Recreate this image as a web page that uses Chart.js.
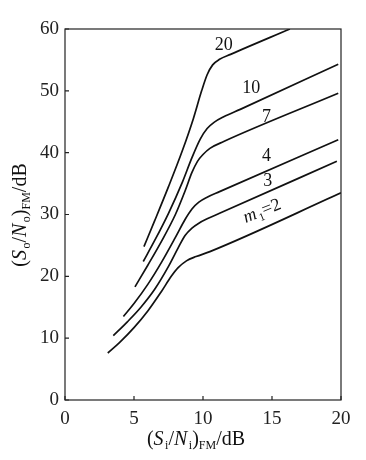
<!DOCTYPE html>
<html lang="zh">
<head>
<meta charset="UTF-8">
<title>FM output SNR vs input SNR</title>
<script src="https://cdn.jsdelivr.net/npm/chart.js@4.4.0/dist/chart.umd.min.js"></script>
<style>
  html, body { margin: 0; padding: 0; background: #fff; }
  #wrap { width: 366px; height: 460px; position: relative; }
</style>
</head>
<body>
<div id="wrap"><canvas id="snrChart"></canvas></div>
<script>
// curves: input SNR (dB) -> output SNR (dB), one per modulation index
const curveM2 = [[3.1,7.6],[4,9.4],[5,11.7],[6,14.4],[7,17.6],[7.7,20],[8.2,21.4],[8.8,22.5],[9.5,23.2],[10.5,24],[20,33.5]];
const curveM3 = [[3.5,10.4],[4.5,12.6],[5.5,15],[6.5,17.9],[7.5,21.6],[8.2,24.6],[8.7,26.6],[9.2,27.8],[9.7,28.6],[10.3,29.3],[11.2,30.2],[19.7,38.6]];
const curveM4 = [[4.23,13.5],[5,15.6],[6,18.7],[7,22.3],[8,26.3],[8.7,29.2],[9.2,30.9],[9.7,32],[10.3,32.8],[11.2,33.7],[19.8,42.1]];
const curveM7 = [[5.07,18.3],[6,21.8],[7,25.7],[8,30],[8.7,33.8],[9.2,36.8],[9.6,38.6],[10,39.7],[10.5,40.7],[11.5,41.8],[19.8,49.6]];
const curveM10 = [[5.67,22.4],[6.5,25.8],[7.5,30.2],[8.5,35.2],[9.2,39.2],[9.8,42.2],[10.3,43.9],[10.8,44.9],[11.5,45.8],[12.7,47],[19.8,54.3]];
const curveM20 = [[5.72,24.8],[6.5,29],[7.5,34.5],[8.5,40.3],[9.3,45.5],[9.9,50],[10.3,52.6],[10.7,54.2],[11.2,55.1],[12,55.9],[16.3,60]];

const curves = [curveM2, curveM3, curveM4, curveM7, curveM10, curveM20];

// curve labels: text and position (data units)
const labelTexts = ['20', '10', '7', '4', '3'];
const labelX = [11.5, 13.5, 14.6, 14.6, 14.7];
const labelY = [57.3, 50.4, 45.8, 39.4, 35.3];
const m2LabelPos = [14.25, 30.7];

const xTicks = [0, 5, 10, 15, 20];
const yTicks = [0, 10, 20, 30, 40, 50, 60];

const SERIF = '"Liberation Serif", "Times New Roman", serif';

// draw text made of pieces: {t, it (italic), sub (subscript)}
function drawRich(ctx, parts, cx, cy, size) {
  const subSize = Math.round(size * 0.62);
  let total = 0;
  parts.forEach(p => {
    ctx.font = (p.it ? 'italic ' : '') + (p.sub ? subSize : size) + 'px ' + SERIF;
    p.w = ctx.measureText(p.t).width + (p.it ? 1.5 : 0);
    total += p.w;
  });
  let x = cx - total / 2;
  ctx.textBaseline = 'alphabetic';
  ctx.textAlign = 'left';
  parts.forEach(p => {
    ctx.font = (p.it ? 'italic ' : '') + (p.sub ? subSize : size) + 'px ' + SERIF;
    ctx.fillText(p.t, x, cy + (p.sub ? size * 0.22 : 0));
    x += p.w;
  });
}

const decorPlugin = {
  id: 'decor',
  afterDatasetsDraw(chart) {
    const ctx = chart.ctx;
    const a = chart.chartArea;
    const xs = chart.scales.x, ys = chart.scales.y;
    ctx.save();
    ctx.strokeStyle = '#222';
    ctx.lineWidth = 1.2;
    ctx.strokeRect(a.left, a.top, a.right - a.left, a.bottom - a.top);
    // inward ticks
    ctx.beginPath();
    xTicks.forEach(v => {
      const px = xs.getPixelForValue(v);
      ctx.moveTo(px, a.bottom); ctx.lineTo(px, a.bottom - 4);
    });
    yTicks.forEach(v => {
      const py = ys.getPixelForValue(v);
      ctx.moveTo(a.left, py); ctx.lineTo(a.left + 4, py);
    });
    ctx.stroke();

    ctx.fillStyle = '#111';
    ctx.textAlign = 'center';
    ctx.textBaseline = 'middle';
    ctx.font = '18px ' + SERIF;
    labelTexts.forEach((t, i) => {
      ctx.fillText(t, xs.getPixelForValue(labelX[i]), ys.getPixelForValue(labelY[i]));
    });

    // m1=2 label, slanted along the curve
    ctx.save();
    ctx.translate(xs.getPixelForValue(m2LabelPos[0]), ys.getPixelForValue(m2LabelPos[1]));
    ctx.rotate(-22 * Math.PI / 180);
    drawRich(ctx, [{t: 'm', it: true}, {t: '1', sub: true}, {t: '=2'}], 0, 6, 18);
    ctx.restore();

    // axis titles
    drawRich(ctx, [{t: '('}, {t: 'S', it: true}, {t: 'i', sub: true}, {t: '/'}, {t: 'N', it: true}, {t: 'i', sub: true}, {t: ')'}, {t: 'FM', sub: true}, {t: '/dB'}], 196, 445, 20);
    ctx.save();
    ctx.translate(26, 215);
    ctx.rotate(-Math.PI / 2);
    drawRich(ctx, [{t: '('}, {t: 'S', it: true}, {t: 'o', sub: true}, {t: '/'}, {t: 'N', it: true}, {t: 'o', sub: true}, {t: ')'}, {t: 'FM', sub: true}, {t: '/dB'}], 0, 0, 20);
    ctx.restore();
    ctx.restore();
  }
};

const datasets = curves.map(c => ({
  data: c.map(p => ({x: p[0], y: p[1]})),
  borderColor: '#111',
  borderWidth: 1.7,
  pointRadius: 0,
  fill: false,
  cubicInterpolationMode: 'monotone'
}));

new Chart(document.getElementById('snrChart'), {
  type: 'line',
  data: { datasets: datasets },
  plugins: [decorPlugin],
  options: {
    responsive: true,
    maintainAspectRatio: false,
    animation: false,
    layout: { padding: { left: 0, right: 25, top: 29, bottom: 0 } },
    plugins: { legend: { display: false }, tooltip: { enabled: false } },
    scales: {
      x: {
        type: 'linear',
        min: 0, max: 20,
        afterBuildTicks: s => { s.ticks = xTicks.map(v => ({value: v})); },
        afterFit: s => { s.height = 60; },
        grid: { display: false, drawTicks: false },
        border: { display: false },
        ticks: { color: '#222', font: { family: SERIF, size: 19 }, padding: 8 }
      },
      y: {
        type: 'linear',
        min: 0, max: 60,
        afterBuildTicks: s => { s.ticks = yTicks.map(v => ({value: v})); },
        afterFit: s => { s.width = 65; },
        grid: { display: false, drawTicks: false },
        border: { display: false },
        ticks: { color: '#222', font: { family: SERIF, size: 19 }, padding: 6 }
      }
    }
  }
});
</script>
</body>
</html>
